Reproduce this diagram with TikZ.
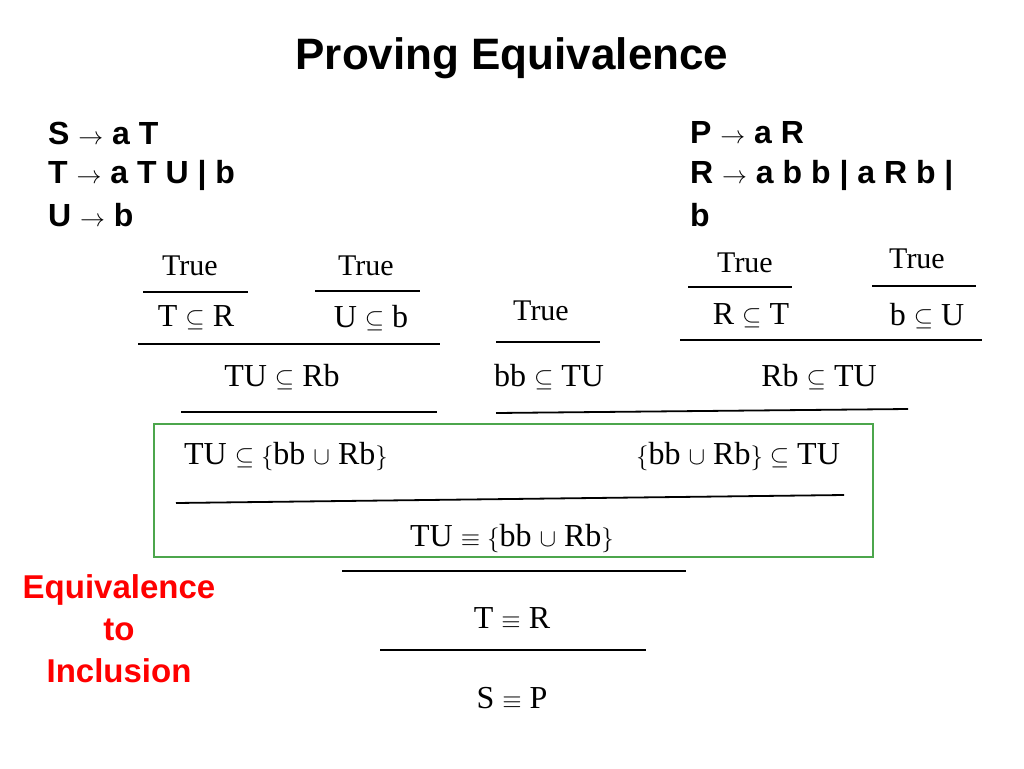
\documentclass[tikz,border=0pt]{standalone}
\usepackage{fontspec}
\setmainfont{Liberation Serif}
\setsansfont{Liberation Sans}
\usetikzlibrary{positioning}
\tikzset{
  gram/.style={anchor=west,font=\sffamily\bfseries\fontsize{32}{38}\selectfont,inner sep=0pt},
  judg/.style={font=\fontsize{32}{38}\selectfont,inner sep=0pt},
  truth/.style={font=\fontsize{30}{36}\selectfont,inner sep=0pt},
  rule/.style={line width=1.8pt},
}
\begin{document}
\begin{tikzpicture}[x=1pt,y=-1pt]
  \useasboundingbox (0,0) rectangle (1024,768);

  \node[font=\sffamily\bfseries\fontsize{44}{52}\selectfont] (title) at (512,58) {Proving Equivalence};

  % grammars
  \node[gram] (s) at (48,133) {S $\rightarrow$ a T};
  \node[gram] (t) at (48,175) {T $\rightarrow$ a T U | b};
  \node[gram] (u) at (48,215) {U $\rightarrow$ b};
  \node[gram] (p) at (690,133) {P $\rightarrow$ a R};
  \node[gram] (r) at (690,175) {R $\rightarrow$ a b b | a R b |};
  \node[gram] (r2) at (690,215) {b};

  % axioms
  \node[truth] (true1) at (190,266) {True};
  \node[truth] (true2) at (366,266) {True};
  \node[truth] (true3) at (541,311) {True};
  \node[truth] (true4) at (745,263) {True};
  \node[truth] (true5) at (917,259) {True};
  \draw[rule] (143,292) -- (248,292);
  \draw[rule] (315,291) -- (420,291);
  \draw[rule] (496,342) -- (600,342);
  \draw[rule] (688,287) -- (792,287);
  \draw[rule] (872,286) -- (976,286);

  \node[judg] (tr) at (196,318) {T $\subseteq$ R};
  \node[judg] (ub) at (371,318) {U $\subseteq$ b};
  \node[judg] (rt) at (751,316) {R $\subseteq$ T};
  \node[judg] (bu) at (927,316) {b $\subseteq$ U};
  \draw[rule] (138,344) -- (440,344);
  \draw[rule] (680,340) -- (982,340);

  \node[judg] (turb) at (282,377) {TU $\subseteq$ Rb};
  \node[judg] (bbtu) at (549,377) {bb $\subseteq$ TU};
  \node[judg] (rbtu) at (819,377) {Rb $\subseteq$ TU};
  \draw[rule] (181,412) -- (437,412);
  \draw[rule] (496,413) -- (908,409);

  % inclusion box
  \draw[green!50!black!70!white,line width=1.2pt] (154,424) rectangle (873,557);
  \node[judg] (incl1) at (286,457) {TU $\subseteq\{$bb $\cup$ Rb$\}$};
  \node[judg] (incl2) at (738,457) {$\{$bb $\cup$ Rb$\}\subseteq$ TU};
  \draw[rule] (176,503) -- (844,495);
  \node[judg] (eq1) at (512,538) {TU $\equiv\{$bb $\cup$ Rb$\}$};
  \draw[rule] (342,571) -- (686,571);
  \node[judg] (eq2) at (512,618) {T $\equiv$ R};
  \draw[rule] (380,650) -- (646,650);
  \node[judg] (eq3) at (512,698) {S $\equiv$ P};

  \node[font=\sffamily\bfseries\fontsize{33}{42}\selectfont,text=red,align=center] (note) at (119,629) {Equivalence\\to\\Inclusion};
\end{tikzpicture}
\end{document}
